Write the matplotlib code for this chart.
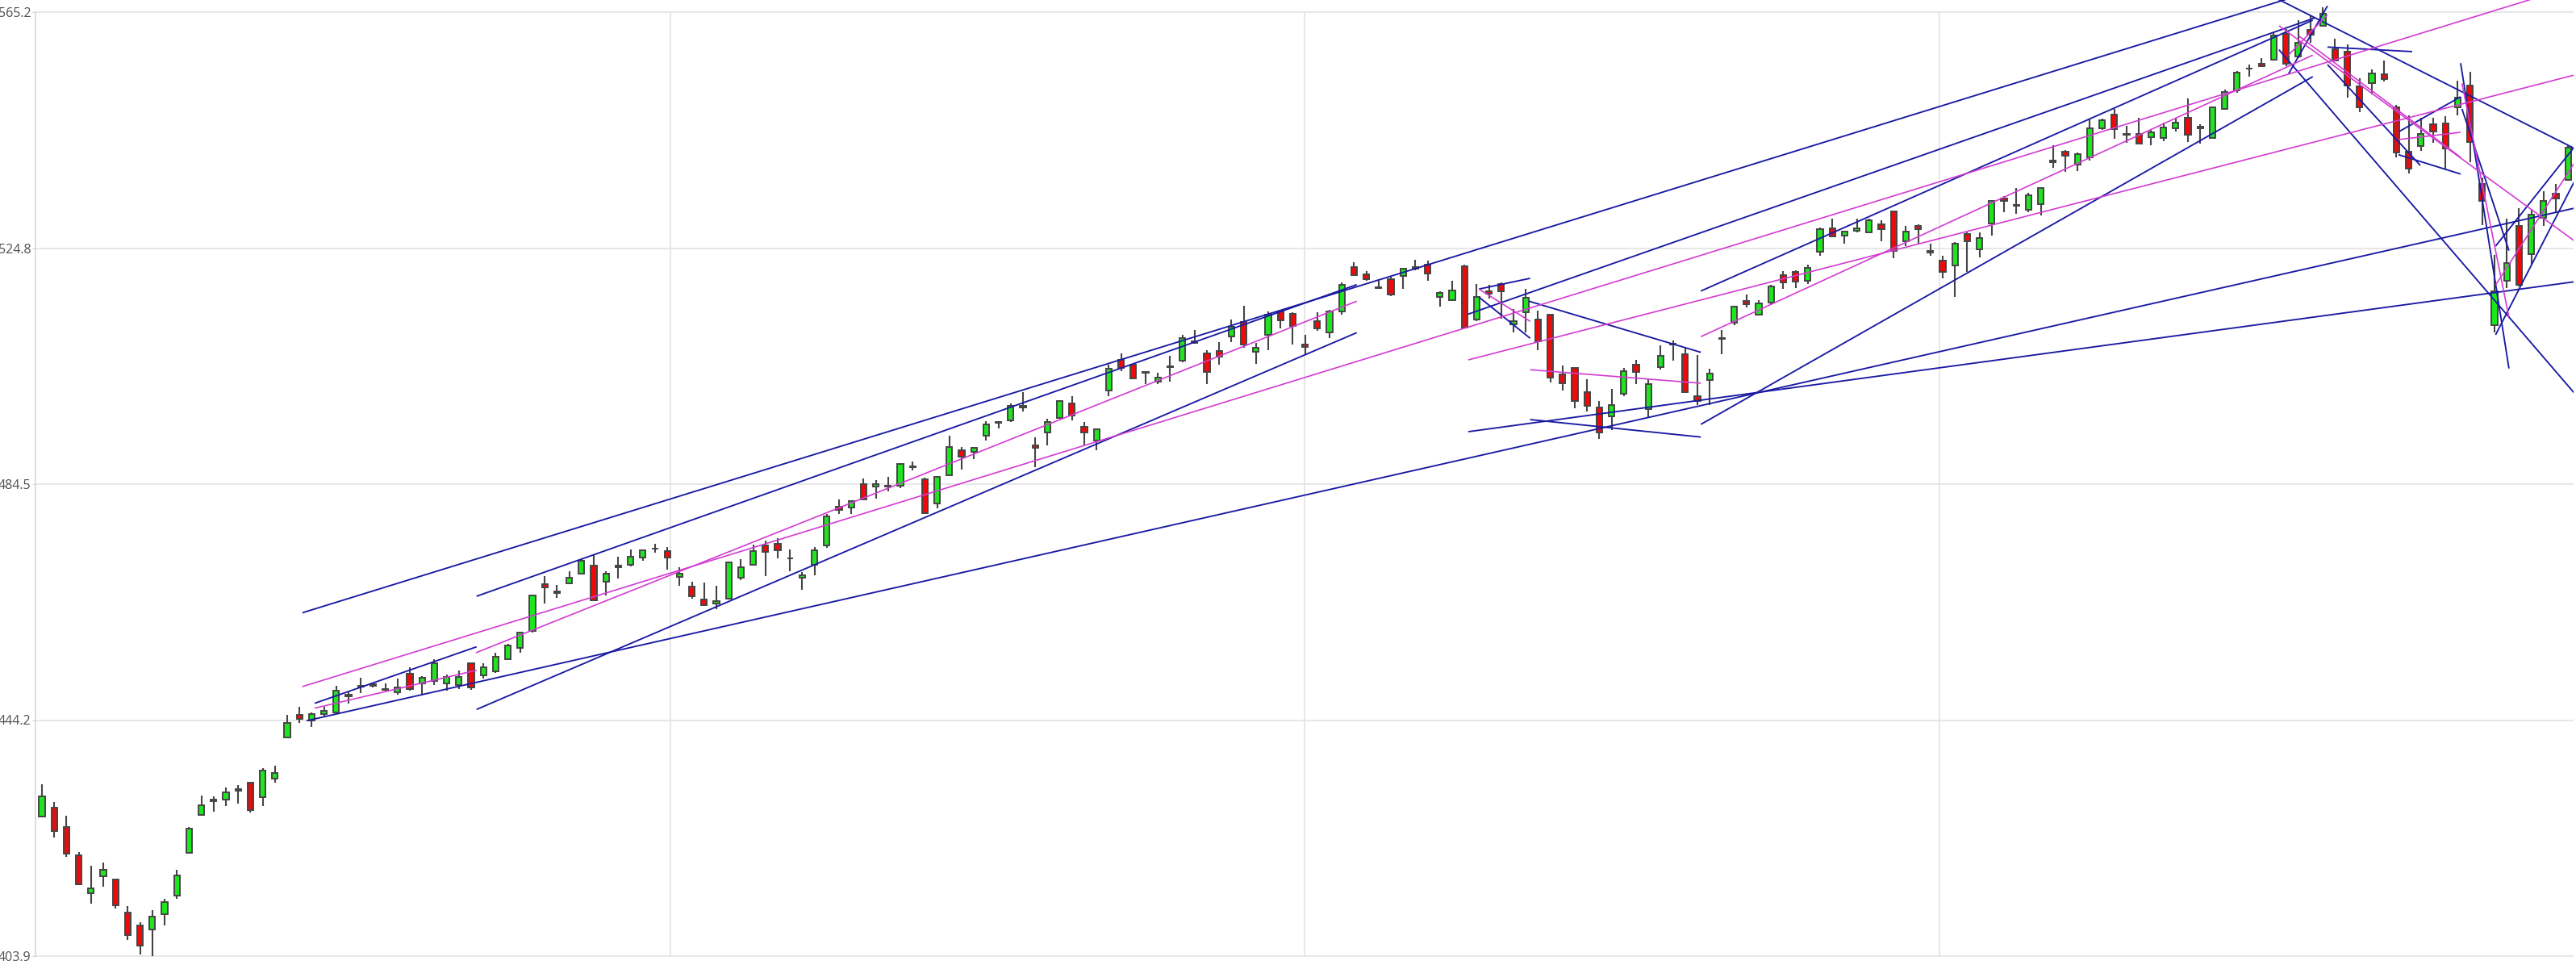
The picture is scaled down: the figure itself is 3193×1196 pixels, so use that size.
import numpy as np
import matplotlib
matplotlib.use("Agg")
import matplotlib.pyplot as plt

# ---------------- data ----------------
opens = [427.7, 429.2, 426.0, 421.1, 414.6, 417.6, 417.0, 411.4, 409.2, 408.5,
         411.1, 414.2, 421.6, 428.0, 430.4, 430.6, 432.2, 433.5, 431.0, 434.2,
         441.3, 445.1, 444.2, 445.2, 445.6, 448.3, 449.9, 450.1, 449.4, 449.0,
         452.2, 450.55, 450.9, 450.5, 450.2, 453.9, 451.9, 452.5, 454.7, 456.6,
         459.4, 467.5, 466.2, 467.6, 469.2, 470.6, 467.9, 470.3, 470.7, 472.0,
         473.5, 473.15, 468.75, 467.1, 464.8, 464.15, 465.0, 468.5, 470.7, 474.1,
         474.4, 471.8, 468.5, 470.7, 474.1, 480.65, 480.55, 484.5, 484.1, 484.2,
         484.3, 487.4, 485.4, 481.25, 486.1, 490.4, 490.1, 492.8, 495.0, 495.4,
         497.7, 491.2, 493.4, 495.9, 498.4, 494.4, 492.0, 500.6, 505.8, 505.0,
         503.6, 502.0, 504.6, 505.7, 508.7, 506.9, 507.3, 509.8, 512.2, 507.1,
         510.0, 514.0, 513.7, 508.45, 512.4, 510.4, 514.1, 521.7, 520.4, 518.2,
         519.5, 520.1, 521.4, 522.0, 516.6, 516.0, 521.8, 512.7, 517.5, 518.7,
         511.8, 513.95, 512.7, 513.5, 503.3, 504.4, 500.3, 497.7, 496.1, 499.95,
         504.9, 497.4, 504.55, 508.4, 506.8, 499.6, 502.3, 509.3, 512.1, 515.9,
         513.5, 515.6, 520.2, 520.85, 519.3, 524.2, 528.2, 527.0, 527.8, 527.5,
         529.0, 531.2, 526.1, 528.6, 524.1, 522.8, 521.9, 527.3, 524.7, 529.1,
         533.35, 532.1, 531.4, 532.35, 539.6, 541.4, 539.2, 540.4, 545.35, 547.7,
         544.4, 544.4, 543.9, 543.75, 545.4, 547.2, 545.4, 543.75, 548.7, 551.8,
         555.5, 556.4, 557.1, 561.5, 557.6, 562.1, 562.9, 558.9, 558.5, 552.5,
         553.1, 554.6, 549.0, 541.4, 542.3, 546.0, 546.2, 549.0, 552.65, 535.8,
         511.75, 519.25, 528.7, 523.8, 530.05, 534.2, 536.5]
highs = [433.2, 430.2, 427.9, 421.7, 419.4, 419.9, 417.0, 412.4, 409.7, 411.8,
         413.7, 418.7, 425.9, 431.3, 431.2, 432.7, 433.1, 433.5, 436.0, 436.4,
         445.1, 446.5, 445.6, 446.5, 450.1, 449.0, 451.5, 450.6, 450.55, 451.3,
         453.3, 451.8, 454.7, 452.0, 452.7, 454.0, 454.0, 455.8, 457.2, 459.3,
         465.7, 468.8, 467.3, 469.6, 471.8, 472.6, 469.6, 472.1, 473.4, 473.3,
         474.3, 473.75, 470.3, 467.9, 467.7, 467.2, 471.3, 471.7, 474.2, 474.9,
         475.3, 473.4, 469.5, 473.8, 479.5, 481.9, 481.7, 485.5, 485.2, 485.8,
         488.1, 488.4, 485.7, 485.9, 492.8, 490.85, 490.95, 495.3, 495.35, 498.3,
         500.3, 492.5, 495.7, 498.8, 499.6, 495.1, 494.0, 505.0, 506.85, 505.1,
         503.8, 503.6, 506.5, 510.1, 510.9, 507.4, 508.8, 512.7, 515.0, 508.7,
         514.0, 514.1, 513.9, 510.1, 513.9, 514.3, 519.0, 522.5, 520.95, 519.5,
         520.0, 521.55, 522.9, 522.7, 517.55, 519.25, 522.1, 518.8, 518.6, 519.0,
         514.4, 517.9, 514.2, 513.5, 504.8, 504.4, 502.5, 498.8, 500.8, 504.4,
         505.8, 502.6, 508.2, 509.1, 507.9, 506.6, 504.2, 510.9, 514.9, 516.9,
         516.0, 518.6, 521.0, 521.1, 522.1, 528.4, 529.9, 527.75, 529.9, 529.9,
         529.7, 531.3, 528.7, 528.9, 525.6, 523.5, 525.9, 527.5, 527.5, 533.1,
         533.7, 535.2, 534.3, 535.3, 542.45, 541.6, 541.15, 546.8, 547.05, 548.65,
         545.7, 547.15, 545.2, 546.3, 547.05, 550.4, 546.0, 549.0, 551.9, 555.1,
         556.2, 557.3, 561.7, 562.3, 563.8, 564.7, 566.0, 560.6, 559.7, 553.9,
         555.4, 556.9, 549.35, 547.5, 547.1, 547.1, 547.4, 553.5, 554.95, 536.9,
         523.7, 529.95, 531.65, 531.4, 534.55, 535.8, 542.45]
lows = [427.6, 424.1, 420.8, 416.1, 412.8, 415.8, 412.0, 406.6, 404.2, 403.9,
        409.2, 413.7, 421.6, 427.9, 428.6, 429.5, 429.9, 428.4, 429.5, 433.5,
        441.1, 443.8, 443.1, 444.7, 445.5, 447.0, 448.9, 449.8, 449.2, 448.6,
        449.2, 448.4, 450.2, 449.3, 449.6, 449.4, 451.3, 452.3, 454.6, 455.7,
        459.2, 464.2, 465.1, 467.5, 469.1, 464.6, 465.5, 468.4, 470.5, 471.5,
        472.8, 470.0, 467.2, 465.0, 463.8, 463.2, 464.9, 468.1, 470.6, 468.9,
        471.9, 469.7, 466.5, 469.0, 473.6, 479.4, 479.5, 481.8, 482.0, 483.3,
        483.8, 486.9, 479.5, 480.4, 486.0, 487.0, 488.8, 492.0, 494.0, 495.1,
        497.0, 487.4, 491.1, 495.7, 495.4, 491.1, 490.3, 499.6, 503.85, 502.6,
        501.6, 501.6, 502.0, 505.3, 508.6, 501.6, 505.0, 508.8, 507.8, 505.1,
        507.4, 511.2, 508.45, 506.6, 510.8, 509.5, 513.5, 520.2, 519.25, 518.0,
        516.7, 517.9, 521.1, 519.25, 514.9, 515.9, 511.1, 512.4, 516.3, 512.8,
        510.5, 510.5, 507.4, 501.9, 500.5, 497.5, 497.0, 492.3, 493.8, 499.6,
        501.6, 495.8, 504.1, 505.6, 500.2, 498.1, 498.0, 506.8, 511.7, 514.8,
        513.5, 515.1, 517.9, 518.0, 518.8, 523.5, 526.9, 525.6, 527.5, 527.5,
        526.0, 523.15, 525.2, 525.5, 523.6, 519.7, 516.6, 520.8, 523.25, 527.05,
        531.0, 530.8, 531.0, 530.4, 538.6, 537.85, 538.1, 539.9, 545.1, 543.5,
        542.9, 542.55, 542.45, 543.15, 544.75, 543.05, 542.7, 543.75, 548.6, 551.4,
        554.2, 555.8, 556.9, 556.0, 557.3, 559.9, 562.9, 556.8, 550.6, 548.1,
        551.1, 553.4, 540.4, 537.6, 541.5, 542.9, 538.5, 547.6, 539.5, 528.8,
        510.4, 518.1, 518.3, 522.1, 528.65, 531.05, 536.4]
closes = [431.2, 425.3, 421.4, 416.2, 415.5, 418.6, 412.6, 407.5, 405.7, 410.6,
          413.2, 417.7, 425.7, 429.7, 430.7, 431.9, 432.4, 428.9, 435.6, 435.2,
          443.7, 444.5, 445.2, 445.8, 449.3, 448.5, 450.1, 450.35, 449.6, 449.8,
          449.5, 451.4, 454.0, 451.6, 451.6, 449.8, 453.2, 455.1, 457.0, 459.2,
          465.5, 466.9, 466.0, 468.6, 471.5, 464.7, 469.3, 470.6, 472.1, 473.2,
          473.55, 472.0, 469.25, 465.4, 463.9, 464.6, 471.2, 470.4, 473.1, 473.0,
          473.25, 471.9, 468.95, 473.2, 479.1, 480.1, 481.6, 481.9, 484.6, 484.25,
          487.95, 487.6, 479.6, 485.8, 490.9, 489.3, 490.7, 494.7, 495.2, 497.9,
          497.9, 490.7, 495.1, 498.7, 496.2, 493.4, 493.9, 504.2, 504.4, 502.6,
          503.65, 502.8, 504.7, 509.5, 508.9, 503.7, 506.3, 511.5, 508.4, 507.9,
          513.5, 512.6, 511.6, 508.0, 511.1, 514.1, 518.65, 520.3, 519.6, 518.0,
          516.9, 521.4, 521.6, 520.5, 517.2, 517.6, 511.3, 516.6, 517.1, 517.5,
          512.45, 516.35, 509.0, 502.7, 501.8, 498.8, 497.9, 493.4, 498.0, 503.85,
          503.7, 501.65, 506.5, 508.5, 500.3, 498.7, 503.4, 509.5, 514.9, 515.35,
          515.4, 518.3, 519.0, 519.15, 521.5, 528.1, 526.9, 527.75, 528.3, 529.6,
          528.1, 524.4, 527.75, 528.1, 524.4, 520.85, 525.7, 526.0, 526.6, 532.9,
          532.9, 532.3, 533.95, 535.2, 539.9, 540.6, 541.0, 545.35, 546.7, 545.2,
          544.2, 542.7, 544.7, 545.5, 546.3, 544.2, 545.65, 549.0, 551.5, 554.8,
          555.6, 555.9, 561.2, 556.4, 560.0, 561.4, 564.9, 556.9, 552.7, 549.0,
          554.7, 553.8, 541.2, 538.4, 544.4, 544.8, 541.9, 550.6, 543.0, 532.9,
          517.55, 522.3, 518.55, 530.6, 532.9, 533.3, 542.1]

y_tick_labels = ["403.9", "444.2", "484.5", "524.8", "565.2"]

# trend lines: (x0 index, y0 price, x1 index, y1 price)
navy_lines = [
    (21.24, 462.57, 186.05, 569.35),
    (35.44, 465.39, 107.22, 518.63),
    (22.24, 447.10, 35.44, 456.75),
    (35.44, 446.05, 107.22, 510.43),
    (21.58, 444.12, 206.65, 531.76),
    (116.32, 493.51, 206.65, 519.16),
    (121.36, 495.58, 135.28, 492.59),
    (116.32, 513.60, 185.39, 564.24),
    (135.28, 517.54, 185.18, 563.82),
    (135.28, 494.76, 185.18, 554.17),
    (180.13, 569.75, 206.65, 541.77),
    (186.38, 559.23, 193.29, 558.45),
    (182.43, 558.76, 206.65, 499.77),
    (192.17, 540.84, 197.24, 537.53),
    (192.19, 544.76, 197.24, 550.73),
    (197.24, 556.48, 201.18, 504.31),
    (197.35, 548.66, 201.18, 524.44),
    (200.09, 510.06, 206.65, 536.82),
    (200.09, 525.22, 206.45, 542.00),
    (183.20, 554.63, 186.38, 566.26),
    (186.38, 556.24, 193.95, 539.01),
    (117.19, 516.50, 121.36, 509.47),
    (117.19, 517.88, 121.36, 519.71),
    (121.25, 515.81, 135.28, 507.07),
]
magenta_lines = [
    (21.23, 449.95, 206.65, 569.75),
    (35.39, 455.74, 107.22, 515.81),
    (22.24, 446.27, 35.44, 452.75),
    (121.36, 504.09, 135.28, 501.79),
    (116.32, 505.78, 206.65, 554.52),
    (135.28, 509.74, 185.18, 557.85),
    (182.43, 562.86, 206.65, 525.91),
    (184.08, 561.07, 197.24, 540.39),
    (192.17, 543.42, 197.24, 544.66),
    (197.35, 553.03, 201.18, 513.05),
    (200.09, 518.56, 206.65, 539.86),
    (183.20, 557.85, 186.38, 564.75),
    (117.19, 517.88, 121.36, 512.36),
]

# ---------------- figure ----------------
W, H = 3193, 1196
fig = plt.figure(figsize=(W / 100, H / 100), dpi=100)
fig.patch.set_facecolor("white")
ax = fig.add_axes([44 / W, 0, (3190 - 44) / W, 1])
ax.set_facecolor("white")

x = np.arange(len(opens))
o = np.array(opens); h = np.array(highs); l = np.array(lows); c = np.array(closes)

ymin_lbl, ymax_lbl = float(y_tick_labels[0]), float(y_tick_labels[-1])
yticks = np.linspace(ymin_lbl, ymax_lbl, len(y_tick_labels))
span = ymax_lbl - ymin_lbl
ax.set_ylim(ymin_lbl - span * 11 / 1170, ymax_lbl + span * 15 / 1170)
ax.set_xlim(-0.526, 206.45)

# grid
for yt in yticks:
    ax.axhline(yt, color="#e0e0e0", lw=1.1, zorder=0)
x0, x1 = ax.get_xlim()
for k in (1, 2, 3):
    ax.vlines(x0 + k * (x1 - x0) / 4, ymin_lbl, ymax_lbl, color="#e0e0e0", lw=1.1, zorder=0)

# candles
up = c >= o
edge = "#454545"
ax.vlines(x, l, h, color=edge, lw=1.5, zorder=2)
bottoms = np.minimum(o, c)
heights = np.abs(c - o)
ax.bar(x, heights, width=0.48, bottom=bottoms,
       color=np.where(up, "#1ee61e", "#ee0a0a"), edgecolor=edge, linewidth=1.4, zorder=2.5)

# trend lines
for (a, b, cc, d) in navy_lines:
    ax.plot([a, cc], [b, d], color="#1a1aa4", lw=1.35, zorder=3, solid_capstyle="butt")
for (a, b, cc, d) in magenta_lines:
    ax.plot([a, cc], [b, d], color="#d23cd2", lw=1.2, zorder=3, solid_capstyle="butt")

# axes styling
for s in ("top", "right", "bottom"):
    ax.spines[s].set_visible(False)
ax.spines["left"].set_color("#d4d4d4")
ax.spines["left"].set_linewidth(1.1)
ax.spines["left"].set_bounds(ymin_lbl, ymax_lbl)
ax.set_yticks(yticks)
ax.set_yticklabels(y_tick_labels, fontsize=11.5, color="#505050", family=["Open Sans", "DejaVu Sans"])
ax.tick_params(axis="y", length=3, color="#d4d4d4", pad=1)
ax.set_xticks([])

fig.savefig("out.png", dpi=100, facecolor="white")
